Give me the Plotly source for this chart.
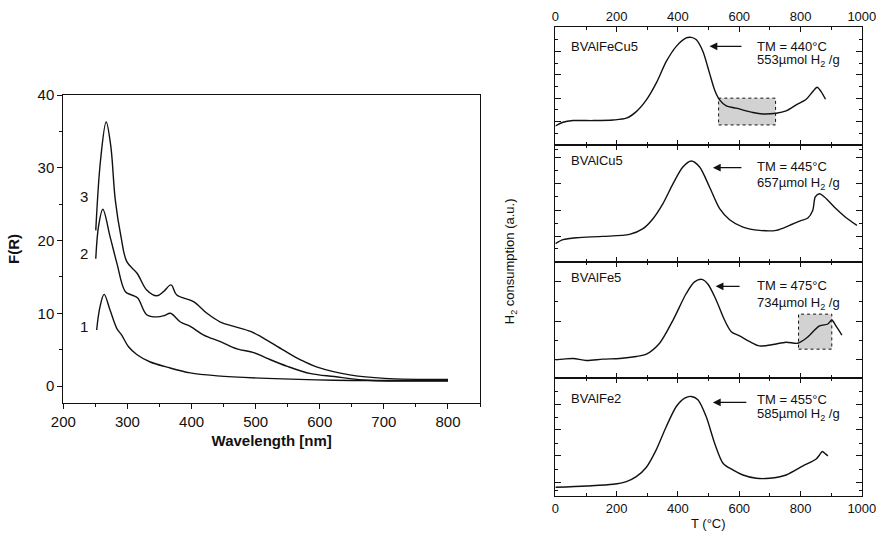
import plotly.graph_objects as go

# ---- left panel: F(R) spectra ----
wl_1 = [252, 257, 263.6, 273, 283.5, 291, 301.7, 315, 335.6, 361.7, 398, 440, 518, 622.5, 700, 800]
fr_1 = [7.7, 10.8, 12.6, 10.4, 7.9, 7.0, 5.4, 4.3, 3.3, 2.6, 1.8, 1.4, 1.05, 0.8, 0.75, 0.75]

wl_2 = [250.6, 255, 261.6, 273, 283.5, 296.5, 307, 316, 330, 346, 358, 367, 382.6, 398, 419, 445, 471, 497,
        518, 549.5, 586, 622.5, 675, 800]
fr_2 = [17.5, 22.0, 24.3, 20.5, 16.9, 13.0, 12.5, 12.1, 9.8, 9.5, 9.7, 10.0, 8.8, 8.2, 7.0, 6.1, 5.1, 4.6,
        3.8, 2.7, 1.7, 1.3, 0.8, 0.7]

wl_3 = [250.6, 258, 266.8, 274, 281, 290, 299, 315, 330, 346, 356.5, 368, 377, 403, 424, 445, 466, 492,
        508, 544, 570, 596, 649, 701, 800]
fr_3 = [21.4, 31.0, 36.3, 33.0, 25.6, 20.5, 17.1, 15.5, 13.2, 12.4, 13.0, 13.9, 12.5, 11.6, 10.0, 8.8, 8.2,
        7.5, 6.8, 4.9, 3.6, 2.6, 1.5, 1.05, 0.9]

curve_labels = ["1", "2", "3"]
curve_label_y = [8.2, 18.2, 26.0]

# ---- right panel: TPR profiles (arbitrary units) ----
samples = ["BVAlFeCu5", "BVAlCu5", "BVAlFe5", "BVAlFe2"]
tm_text = ["TM = 440°C", "TM = 445°C", "TM = 475°C", "TM = 455°C"]
h2_text = ["553µmol H<sub>2</sub> /g", "657µmol H<sub>2</sub> /g",
           "734µmol H<sub>2</sub> /g", "585µmol H<sub>2</sub> /g"]

t_1 = [0, 25, 57.6, 123, 188, 231.5, 264, 297, 329, 362, 394.6, 427, 443.5, 460, 481.5, 503, 519.6, 536,
       557.6, 590, 644.6, 677, 720.7, 753, 786, 818.5, 840, 854, 867, 881.5]
h_1 = [1.61, 1.93, 2.07, 2.07, 2.12, 2.27, 2.83, 3.82, 5.24, 7.08, 8.36, 9.07, 9.12, 8.92, 7.93, 6.09, 4.67,
       3.82, 3.31, 3.12, 2.75, 2.63, 2.69, 2.89, 3.40, 3.88, 4.53, 4.90, 4.53, 3.88]

t_2 = [0, 25, 68.5, 155, 242, 286, 318.5, 351, 384, 416, 443.5, 470.7, 503, 536, 568.5, 612, 666, 720.7,
       764, 797, 824, 840, 848, 862, 878, 916, 949, 984]
h_2 = [1.57, 1.91, 2.08, 2.19, 2.36, 2.85, 3.70, 4.99, 6.70, 8.12, 8.63, 8.12, 6.41, 4.56, 3.62, 2.99, 2.71,
       2.71, 3.13, 3.50, 3.76, 4.42, 5.56, 5.84, 5.56, 4.56, 3.79, 3.13]

t_3 = [0, 25, 57.6, 101, 155, 210, 264, 297, 340, 384, 427, 454, 478, 498, 525, 552, 574, 601, 634, 666,
       710, 753, 791, 818.5, 862, 889, 902, 914, 935]
h_3 = [1.57, 1.63, 1.69, 1.51, 1.63, 1.69, 1.86, 2.06, 3.0, 5.0, 7.29, 8.29, 8.51, 8.09, 6.71, 5.0, 4.0,
       3.63, 3.14, 2.77, 2.89, 3.09, 3.0, 3.43, 4.49, 4.66, 5.0, 4.57, 3.71]

t_4 = [0, 101, 188, 231.5, 264, 297, 329, 362, 394.6, 422, 443.5, 465, 492, 519.6, 547, 579, 612, 655.5,
       699, 753, 808, 851, 862, 871, 881.5, 889]
h_4 = [0.74, 0.85, 0.99, 1.22, 1.64, 2.44, 3.91, 5.89, 7.59, 8.30, 8.44, 8.16, 6.74, 4.48, 2.78, 2.21, 1.78,
       1.50, 1.50, 1.78, 2.55, 3.14, 3.48, 3.77, 3.57, 3.40]

temps = [t_1, t_2, t_3, t_4]
h2 = [h_1, h_2, h_3, h_4]

label_y = [8.36, 8.69, 8.71, 8.30]
arrow_y = [8.36, 8.06, 7.91, 7.93]
arrow_from = [612, 612, 606, 628]
arrow_to = [503, 514, 523, 514]
tm_y = [8.36, 8.18, 8.0, 8.16]
h2_y = [7.2, 6.7, 6.43, 6.88]

# shaded regions (panel index, x0, x1, y0, y1)
boxes = [(0, 532.6, 718.5, 1.70, 3.97), (2, 793.5, 902, 2.49, 5.51)]

# inner y ticks of each panel
major_ticks = [[1.98, 3.97, 5.95, 7.93], [2.19, 4.42, 6.70, 8.89], [1.57, 4.91, 8.29], [1.16, 3.40, 5.61, 7.79]]
minor_ticks = [[0.99, 2.97, 4.96, 6.94, 8.92], [1.14, 3.28, 5.56, 7.78, 9.6], [3.23, 6.57],
               [0.5, 2.27, 4.48, 6.69, 8.9]]

FONT = "Liberation Sans, Arial, sans-serif"
BLACK = "#111111"

fig = go.Figure()

for x, y in [(wl_1, fr_1), (wl_2, fr_2), (wl_3, fr_3)]:
    fig.add_trace(go.Scatter(x=x, y=y, mode="lines", line=dict(color=BLACK, width=1.4, shape="spline"),
                             xaxis="x", yaxis="y", showlegend=False, hoverinfo="skip"))

for i in range(4):
    fig.add_trace(go.Scatter(x=temps[i], y=h2[i], mode="lines",
                             line=dict(color=BLACK, width=1.4, shape="spline", smoothing=0.8),
                             xaxis="x%d" % (i + 2), yaxis="y%d" % (i + 2), showlegend=False, hoverinfo="skip"))

annotations = []
for lab, ly in zip(curve_labels, curve_label_y):
    annotations.append(dict(x=232, y=ly, xref="x", yref="y", text=lab, showarrow=False,
                            font=dict(size=15, color=BLACK)))

for i in range(4):
    xr, yr = "x%d" % (i + 2), "y%d" % (i + 2)
    annotations.append(dict(x=45, y=label_y[i], xref=xr, yref=yr, text=samples[i], showarrow=False,
                            xanchor="left", font=dict(size=13, color=BLACK)))
    annotations.append(dict(x=arrow_to[i], y=arrow_y[i], xref=xr, yref=yr, ax=arrow_from[i], ay=arrow_y[i],
                            axref=xr, ayref=yr, text="", showarrow=True, arrowhead=2, arrowsize=1.3,
                            arrowwidth=1.2, arrowcolor=BLACK))
    annotations.append(dict(x=650, y=tm_y[i], xref=xr, yref=yr, text=tm_text[i], showarrow=False,
                            xanchor="left", font=dict(size=13, color=BLACK)))
    annotations.append(dict(x=650, y=h2_y[i], xref=xr, yref=yr, text=h2_text[i], showarrow=False,
                            xanchor="left", font=dict(size=13, color=BLACK)))

annotations.append(dict(x=0.583, y=0.513, xref="paper", yref="paper", text="H<sub>2</sub> consumption (a.u.)",
                        textangle=-90, showarrow=False, xanchor="center", yanchor="middle",
                        font=dict(size=13, color=BLACK)))
annotations.append(dict(x=0.809, y=0.025, xref="paper", yref="paper", text="T (°C)",
                        showarrow=False, xanchor="center", yanchor="middle", font=dict(size=13, color=BLACK)))

shapes = []
for p, x0, x1, y0, y1 in boxes:
    shapes.append(dict(type="rect", xref="x%d" % (p + 2), yref="y%d" % (p + 2), x0=x0, x1=x1, y0=y0, y1=y1,
                       fillcolor="#d2d2d2", line=dict(color=BLACK, width=1, dash="dot"), layer="below"))

layout = dict(
    width=876, height=537, margin=dict(l=0, r=0, t=0, b=0),
    plot_bgcolor="white", paper_bgcolor="white",
    font=dict(family=FONT, color=BLACK),
    annotations=annotations, shapes=shapes,
    xaxis=dict(domain=[0.0723, 0.548], range=[200, 850], anchor="y", showline=True, linecolor=BLACK,
               linewidth=1.2, mirror=True, ticks="outside", ticklen=5, tickcolor=BLACK, dtick=100, tick0=200,
               minor=dict(dtick=50, ticks="outside", ticklen=3, tickcolor=BLACK), showgrid=False, zeroline=False,
               automargin=False, tickfont=dict(size=15),
               title=dict(text="<b>Wavelength [nm]</b>", font=dict(size=15), standoff=6)),
    yaxis=dict(domain=[0.25, 0.823], range=[-2.3, 40], anchor="x", showline=True, linecolor=BLACK,
               linewidth=1.2, mirror=True, ticks="outside", ticklen=5, tickcolor=BLACK, dtick=10,
               minor=dict(dtick=5, ticks="outside", ticklen=3, tickcolor=BLACK), showgrid=False, zeroline=False,
               automargin=False, tickfont=dict(size=15),
               title=dict(text="<b>F(R)</b>", font=dict(size=15), standoff=14)),
)

edges = [0.9497, 0.730, 0.512, 0.296, 0.0764]
for i in range(4):
    n = i + 2
    layout["xaxis%d" % n] = dict(
        domain=[0.634, 0.984], range=[0, 1000.5], anchor="y%d" % n, showline=True, linecolor=BLACK, linewidth=1.2,
        mirror="ticks", ticks="inside", ticklen=5, tickcolor=BLACK, dtick=200,
        minor=dict(dtick=100, ticks="inside", ticklen=3, tickcolor=BLACK), showgrid=False, zeroline=False,
        automargin=False, ticklabeloverflow="allow", showticklabels=(i == 0 or i == 3),
        side="top" if i == 0 else "bottom", tickfont=dict(size=13))
    layout["yaxis%d" % n] = dict(
        domain=[edges[i + 1], edges[i]], range=[0, 10], anchor="x%d" % n, showline=True, linecolor=BLACK,
        linewidth=1.2, mirror="ticks", ticks="inside", ticklen=6, tickcolor=BLACK, tickmode="array",
        tickvals=major_ticks[i], showticklabels=False, showgrid=False, zeroline=False, automargin=False,
        minor=dict(tickmode="array", tickvals=minor_ticks[i], ticks="inside", ticklen=3, tickcolor=BLACK))

fig.update_layout(layout)
fig.write_html("out.html", config={"displayModeBar": False},
               post_script="document.body.style.margin='0px';")
